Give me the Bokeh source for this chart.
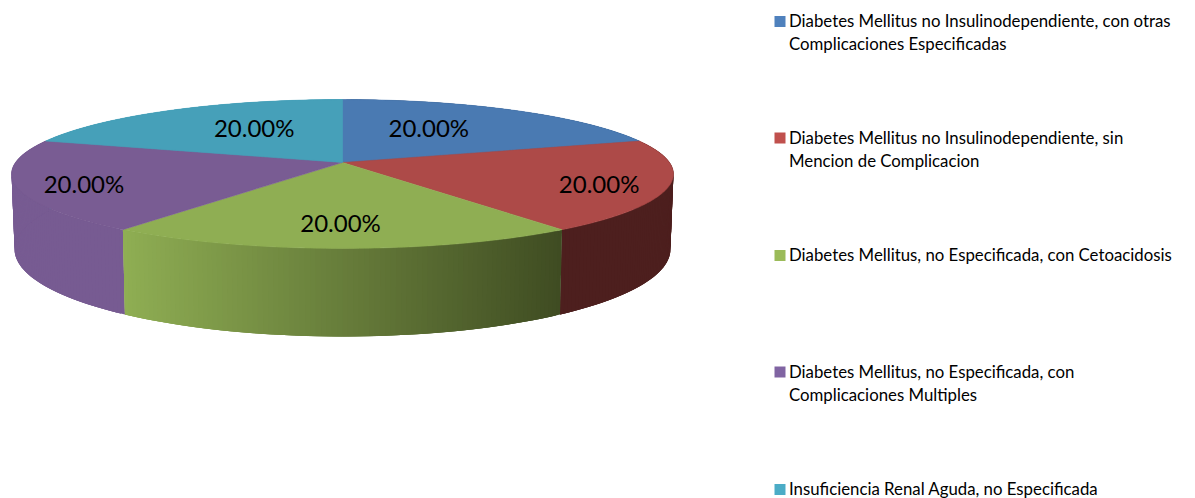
import numpy as np
from bokeh.plotting import figure
from bokeh.models import Range1d
from bokeh.core.properties import value
from bokeh.embed import file_html
from bokeh.resources import INLINE

categories = [
    "Diabetes Mellitus no Insulinodependiente, con otras\nComplicaciones Especificadas",
    "Diabetes Mellitus no Insulinodependiente, sin\nMencion de Complicacion",
    "Diabetes Mellitus, no Especificada, con Cetoacidosis",
    "Diabetes Mellitus, no Especificada, con\nComplicaciones Multiples",
    "Insuficiencia Renal Aguda, no Especificada",
]
values = [20.0, 20.0, 20.0, 20.0, 20.0]
top_colors = ["#4a7ab2", "#ad4a48", "#8fae53", "#795c93", "#46a0b9"]
legend_colors = ["#4f81bd", "#c0504d", "#9bbb59", "#8064a2", "#4bacc6"]
side_left = ["#3a5f8c", "#4d1f1e", "#8fae53", "#775b92", "#46a0b9"]
side_right = ["#3a5f8c", "#4d1f1e", "#3f4c22", "#775b92", "#46a0b9"]
label_offsets = [(-21, -2), (64.5, 7), (-2, 12), (-66.5, 7), (19, -2)]
legend_line_y = [[20, 43], [136.5, 160], [254], [370.5, 393.5], [488]]
FONT = "Lato"

# projected-disc geometry (pixels of the page)
CX, CY, R, AY, K = 342.0, 162.0, 327.0, 72.7, 0.154
BR, BYC, BAY = 324.0, 235.5, 85.0


def top_xy(theta, f=1.0):
    s, c = f * np.sin(theta), f * np.cos(theta)
    w = 1 + K * c
    return CX + R * s / w, CY - AY * c / w


def bottom_xy(theta):
    s, c = np.sin(theta), np.cos(theta)
    w = 1 + K * c
    return CX + BR * s / w, BYC - BAY * c / w


def rgb(h):
    return np.array([int(h[i:i + 2], 16) for i in (1, 3, 5)], dtype=float)


p = figure(width=1195, height=498, output_backend="svg", toolbar_location=None,
           x_range=Range1d(0, 1195), y_range=Range1d(498, 0),
           min_border=0, outline_line_color=None)
p.axis.visible = False
p.grid.visible = False

edges = np.concatenate([[0.0], np.cumsum(values)]) / sum(values) * 2 * np.pi

# sides: overlapping strips (painted from the far end) whose colour runs with screen x
for i in [0, 4, 1, 3, 2]:
    a0, a1 = edges[i], edges[i + 1]
    n = 90
    th = np.linspace(a0, a1, n + 1)
    tx, ty = top_xy(th)
    bx, by = bottom_xy(th)
    xmin, xmax = tx.min(), tx.max()
    cl, cr = rgb(side_left[i]), rgb(side_right[i])
    xs, ys, cols = [], [], []
    for j in range(n):
        e = min(j + 3, n)
        xs.append([tx[j], tx[e], bx[e], bx[j]])
        ys.append([ty[j], ty[e], by[e], by[j]])
        t = ((tx[j] + tx[j + 1]) / 2 - xmin) / max(xmax - xmin, 1)
        col = cl + (cr - cl) * t
        cols.append("#%02x%02x%02x" % tuple(int(round(v)) for v in col))
    p.patches(xs, ys, fill_color=cols, line_color=None)

# top faces
for i in range(len(values)):
    th = np.linspace(edges[i], edges[i + 1], 100)
    tx, ty = top_xy(th)
    p.patch(np.r_[CX, tx], np.r_[CY, ty], fill_color=top_colors[i],
            line_color=top_colors[i], line_width=0.5)

# data labels
mids = (edges[:-1] + edges[1:]) / 2
for i, v in enumerate(values):
    lx, ly = top_xy(mids[i], 0.6)
    p.text([lx + label_offsets[i][0]], [ly + label_offsets[i][1]], text=["%.2f%%" % v],
           text_font=value(FONT), text_font_size="24px", text_color="#000000",
           text_align="center", text_baseline="middle")

# legend
for i, cat in enumerate(categories):
    lines = cat.split("\n")
    ys = legend_line_y[i]
    p.rect([779.5], [ys[0] + 1], width=11, height=11, fill_color=legend_colors[i], line_color=None)
    p.text([788.5] * len(lines), ys, text=lines, text_font=value(FONT),
           text_font_size="16.8px", text_color="#000000",
           text_align="left", text_baseline="middle")

open("out.html", "w").write(file_html(p, INLINE))
